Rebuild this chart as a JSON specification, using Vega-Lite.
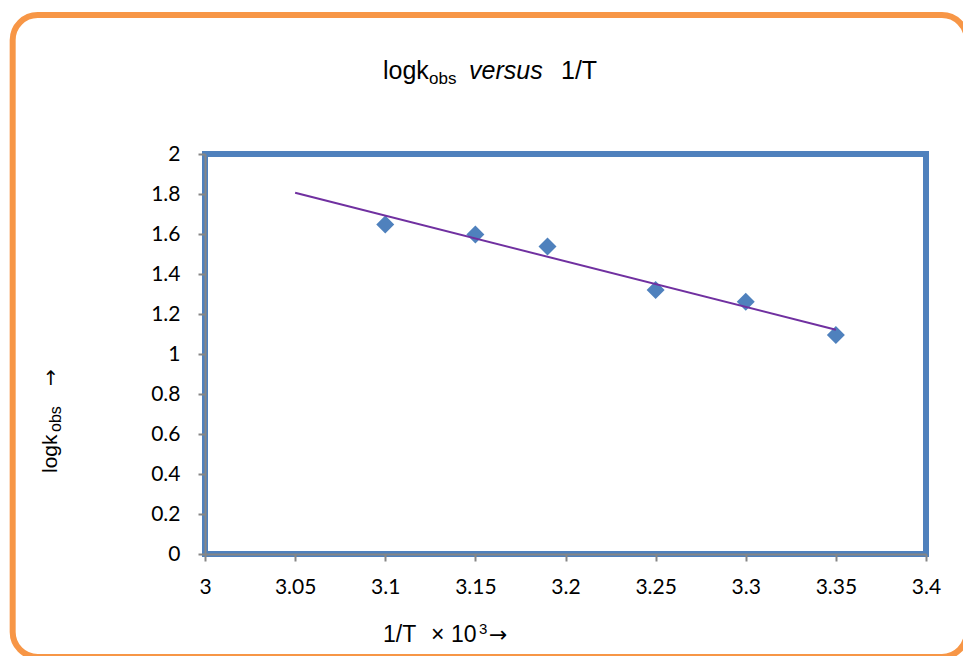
{
  "$schema": "https://vega.github.io/schema/vega-lite/v6.json",
  "autosize": {"type": "none"},
  "width": 721,
  "height": 400,
  "padding": {"left": 205, "top": 154, "right": 37, "bottom": 102},
  "background": "white",
  "config": {
    "view": {"stroke": "#4F81BD", "strokeWidth": 6},
    "axis": {
      "domainColor": "#868686",
      "domainWidth": 2,
      "tickColor": "#868686",
      "tickWidth": 2,
      "tickSize": 7,
      "grid": false,
      "labelFont": "Lato",
      "labelFontSize": 21,
      "labelColor": "#000000",
      "labelOverlap": false,
      "labelFlush": false
    }
  },
  "datasets": {
    "points": [
      {"invT": 3.1, "logk": 1.648},
      {"invT": 3.15, "logk": 1.598},
      {"invT": 3.19, "logk": 1.538},
      {"invT": 3.25, "logk": 1.32},
      {"invT": 3.3, "logk": 1.261},
      {"invT": 3.35, "logk": 1.095}
    ],
    "trend": [
      {"invT": 3.05, "logk": 1.806},
      {"invT": 3.35, "logk": 1.121}
    ],
    "one": [{"k": 1}]
  },
  "layer": [
    {
      "data": {"name": "points"},
      "mark": {"type": "point", "shape": "diamond", "filled": true, "size": 324, "color": "#4F81BD", "opacity": 1},
      "encoding": {
        "x": {"field": "invT", "type": "quantitative", "scale": {"domain": [3, 3.4], "nice": false, "zero": false},
          "axis": {"title": null, "values": [3, 3.05, 3.1, 3.15, 3.2, 3.25, 3.3, 3.35, 3.4], "format": "~g", "labelPadding": 15, "offset": 0, "labelOverlap": false}},
        "y": {"field": "logk", "type": "quantitative", "scale": {"domain": [0, 2], "nice": false},
          "axis": {"title": null, "values": [0, 0.2, 0.4, 0.6, 0.8, 1, 1.2, 1.4, 1.6, 1.8, 2], "tickCount": 11, "format": "~g", "labelPadding": 18, "offset": 0, "labelOverlap": false}}
      }
    },
    {
      "data": {"name": "trend"},
      "mark": {"type": "line", "color": "#7030A0", "strokeWidth": 2},
      "encoding": {
        "x": {"field": "invT", "type": "quantitative"},
        "y": {"field": "logk", "type": "quantitative"}
      }
    },
    {
      "data": {"name": "one"},
      "mark": {"type": "rect", "fill": "white", "fillOpacity": 0, "stroke": "#F79646", "strokeWidth": 6, "cornerRadius": 25},
      "encoding": {
        "x": {"datum": 2.8933, "type": "quantitative", "title": null},
        "x2": {"datum": 3.4227},
        "y": {"datum": 2.695, "type": "quantitative", "title": null},
        "y2": {"datum": -0.515}
      }
    },
    {
      "data": {"name": "one"},
      "mark": {"type": "text", "font": "Liberation Sans", "fontSize": 25, "align": "left", "baseline": "alphabetic", "color": "#000000", "text": "logk"},
      "encoding": {
        "x": {"datum": 3.09875, "type": "quantitative", "title": null},
        "y": {"datum": 2.375, "type": "quantitative", "title": null}
      }
    },
    {
      "data": {"name": "one"},
      "mark": {"type": "text", "font": "Liberation Sans", "fontSize": 17, "align": "left", "baseline": "alphabetic", "color": "#000000", "text": "obs"},
      "encoding": {
        "x": {"datum": 3.12427, "type": "quantitative", "title": null},
        "y": {"datum": 2.35, "type": "quantitative", "title": null}
      }
    },
    {
      "data": {"name": "one"},
      "mark": {"type": "text", "font": "Liberation Sans", "fontSize": 25, "fontStyle": "italic", "align": "left", "baseline": "alphabetic", "color": "#000000", "text": "versus"},
      "encoding": {
        "x": {"datum": 3.14646, "type": "quantitative", "title": null},
        "y": {"datum": 2.375, "type": "quantitative", "title": null}
      }
    },
    {
      "data": {"name": "one"},
      "mark": {"type": "text", "font": "Liberation Sans", "fontSize": 25, "align": "left", "baseline": "alphabetic", "color": "#000000", "text": "1/T"},
      "encoding": {
        "x": {"datum": 3.1975, "type": "quantitative", "title": null},
        "y": {"datum": 2.375, "type": "quantitative", "title": null}
      }
    },
    {
      "data": {"name": "one"},
      "mark": {"type": "text", "font": "Liberation Sans", "fontSize": 23, "align": "left", "baseline": "alphabetic", "color": "#000000", "text": "1/T"},
      "encoding": {
        "x": {"datum": 3.09875, "type": "quantitative", "title": null},
        "y": {"datum": -0.44, "type": "quantitative", "title": null}
      }
    },
    {
      "data": {"name": "one"},
      "mark": {"type": "text", "font": "Liberation Sans", "fontSize": 23, "align": "left", "baseline": "alphabetic", "color": "#000000", "text": "×"},
      "encoding": {
        "x": {"datum": 3.12538, "type": "quantitative", "title": null},
        "y": {"datum": -0.44, "type": "quantitative", "title": null}
      }
    },
    {
      "data": {"name": "one"},
      "mark": {"type": "text", "font": "Liberation Sans", "fontSize": 23, "align": "left", "baseline": "alphabetic", "color": "#000000", "text": "10"},
      "encoding": {
        "x": {"datum": 3.13648, "type": "quantitative", "title": null},
        "y": {"datum": -0.44, "type": "quantitative", "title": null}
      }
    },
    {
      "data": {"name": "one"},
      "mark": {"type": "text", "font": "Liberation Sans", "fontSize": 15, "align": "left", "baseline": "alphabetic", "color": "#000000", "text": "3"},
      "encoding": {
        "x": {"datum": 3.15201, "type": "quantitative", "title": null},
        "y": {"datum": -0.4, "type": "quantitative", "title": null}
      }
    },
    {
      "data": {"name": "one"},
      "mark": {"type": "text", "font": "DejaVu Sans", "fontSize": 22, "align": "left", "baseline": "alphabetic", "color": "#000000", "text": "→"},
      "encoding": {
        "x": {"datum": 3.15756, "type": "quantitative", "title": null},
        "y": {"datum": -0.44, "type": "quantitative", "title": null}
      }
    },
    {
      "data": {"name": "one"},
      "mark": {"type": "text", "font": "Liberation Sans", "fontSize": 21, "angle": 270, "align": "left", "baseline": "alphabetic", "color": "#000000", "text": "logk"},
      "encoding": {
        "x": {"datum": 2.91789, "type": "quantitative", "title": null},
        "y": {"datum": 0.405, "type": "quantitative", "title": null}
      }
    },
    {
      "data": {"name": "one"},
      "mark": {"type": "text", "font": "Liberation Sans", "fontSize": 16, "angle": 270, "align": "left", "baseline": "alphabetic", "color": "#000000", "text": "obs"},
      "encoding": {
        "x": {"datum": 2.92011, "type": "quantitative", "title": null},
        "y": {"datum": 0.61, "type": "quantitative", "title": null}
      }
    },
    {
      "data": {"name": "one"},
      "mark": {"type": "text", "font": "DejaVu Sans", "fontSize": 20, "angle": 270, "align": "left", "baseline": "alphabetic", "color": "#000000", "text": "→"},
      "encoding": {
        "x": {"datum": 2.91789, "type": "quantitative", "title": null},
        "y": {"datum": 0.84, "type": "quantitative", "title": null}
      }
    }
  ]
}
